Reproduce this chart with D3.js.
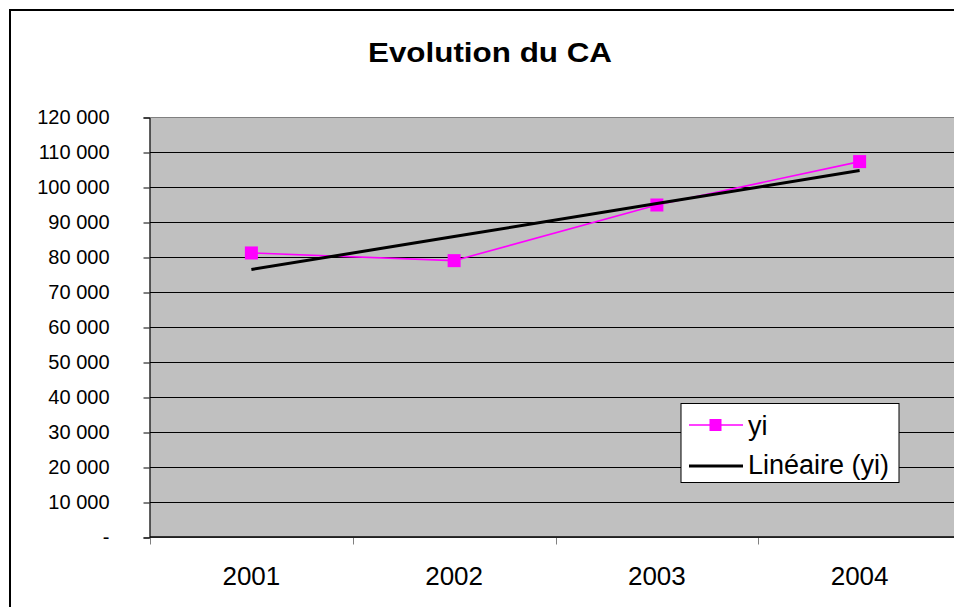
<!DOCTYPE html>
<html><head><meta charset="utf-8">
<script src="https://cdn.jsdelivr.net/npm/d3@7"></script>
<style>
html,body{margin:0;padding:0;background:#fff;overflow:hidden;}
svg{display:block;font-family:"Liberation Sans",Arial,sans-serif;}
</style></head>
<body>
<svg id="chart" width="954" height="607"></svg>
<script>
const title = "Evolution du CA";
const categories = ["2001", "2002", "2003", "2004"];
const yiValues = [81300, 79100, 95000, 107400];
const yTicks = [0, 10000, 20000, 30000, 40000, 50000, 60000, 70000, 80000, 90000, 100000, 110000, 120000];
const seriesNames = ["yi", "Linéaire (yi)"];

const svg = d3.select("#chart");
const plot = {left: 150, right: 961, top: 117.5, bottom: 537.5};

// outer frame
svg.append("rect").attr("x", 10).attr("y", 10).attr("width", 963).attr("height", 620)
  .attr("fill", "#fff").attr("stroke", "#000").attr("stroke-width", 2);

// title
svg.append("text").attr("x", 490).attr("y", 62).attr("text-anchor", "middle")
  .attr("font-size", 27).attr("font-weight", "bold")
  .attr("textLength", 244).attr("lengthAdjust", "spacingAndGlyphs")
  .text(title);

const x = d3.scaleBand().domain(categories).range([plot.left, plot.right]).padding(0);
const y = d3.scaleLinear().domain([0, 120000]).range([plot.bottom, plot.top]);

// plot area
svg.append("rect").attr("x", plot.left).attr("y", plot.top)
  .attr("width", plot.right - plot.left).attr("height", plot.bottom - plot.top)
  .attr("fill", "#C0C0C0").attr("stroke", "#808080").attr("stroke-width", 1);

// gridlines
svg.append("g").selectAll("line").data(yTicks.filter(v => v > 0 && v < 120000)).join("line")
  .attr("x1", plot.left).attr("x2", plot.right)
  .attr("y1", d => y(d)).attr("y2", d => y(d))
  .attr("stroke", "#000").attr("stroke-width", 1);

// y axis
const fmt = v => v === 0 ? "-" : d3.format(",")(v).replace(/,/g, " ");
const yAxis = svg.append("g").attr("transform", `translate(${plot.left - 0.5},0)`)
  .call(d3.axisLeft(y).tickValues(yTicks).tickFormat(fmt).tickSize(6).tickPadding(34));
yAxis.select(".domain").attr("stroke", "#000");
yAxis.selectAll(".tick line").attr("stroke", "#000");
yAxis.selectAll(".tick text").attr("font-size", 20).attr("fill", "#000")
  .attr("font-family", "'Liberation Sans',Arial,sans-serif");

// x axis: labels at category centers, ticks at boundaries
const xAxis = svg.append("g").attr("transform", `translate(0,${plot.bottom})`)
  .call(d3.axisBottom(x).tickSize(0).tickPadding(29));
xAxis.select(".domain").remove();
xAxis.selectAll(".tick text").attr("font-size", 26).attr("fill", "#000")
  .attr("font-family", "'Liberation Sans',Arial,sans-serif");
const boundaries = categories.map(c => x(c)).concat([x.range()[1]]);
svg.append("g").selectAll("line").data(boundaries).join("line")
  .attr("x1", d => Math.round(d) + 0.5).attr("x2", d => Math.round(d) + 0.5)
  .attr("y1", plot.bottom).attr("y2", plot.bottom + 7)
  .attr("stroke", "#808080").attr("stroke-width", 1);
svg.append("line").attr("x1", plot.left).attr("x2", plot.right)
  .attr("y1", plot.bottom - 0.5).attr("y2", plot.bottom - 0.5)
  .attr("stroke", "#000").attr("stroke-width", 1.6);

const cx = c => x(c) + x.bandwidth() / 2;

// linear trend (least squares on yi)
const xs = yiValues.map((_, i) => i + 1);
const mx = d3.mean(xs), my = d3.mean(yiValues);
const slope = d3.sum(xs.map((xi, i) => (xi - mx) * (yiValues[i] - my))) / d3.sum(xs.map(xi => (xi - mx) ** 2));
const intercept = my - slope * mx;
const trend = xs.map(xi => intercept + slope * xi);

// yi series
svg.append("path").datum(yiValues)
  .attr("d", d3.line().x((d, i) => cx(categories[i])).y(d => y(d)))
  .attr("fill", "none").attr("stroke", "#FF00FF").attr("stroke-width", 1.6);
svg.append("g").selectAll("rect").data(yiValues).join("rect")
  .attr("x", (d, i) => cx(categories[i]) - 6.5).attr("y", d => y(d) - 6.5)
  .attr("width", 13).attr("height", 13).attr("fill", "#FF00FF");

// trend line
svg.append("path").datum(trend)
  .attr("d", d3.line().x((d, i) => cx(categories[i])).y(d => y(d)))
  .attr("fill", "none").attr("stroke", "#000").attr("stroke-width", 3);

// legend
const lg = svg.append("g");
lg.append("rect").attr("x", 681).attr("y", 403.5).attr("width", 218).attr("height", 79)
  .attr("fill", "#fff").attr("stroke", "#000").attr("stroke-width", 1);
lg.append("line").attr("x1", 689).attr("x2", 743).attr("y1", 425).attr("y2", 425)
  .attr("stroke", "#FF00FF").attr("stroke-width", 1.6);
lg.append("rect").attr("x", 709.5).attr("y", 419).attr("width", 12).attr("height", 12).attr("fill", "#FF00FF");
lg.append("line").attr("x1", 689).attr("x2", 743).attr("y1", 466).attr("y2", 466)
  .attr("stroke", "#000").attr("stroke-width", 3);
lg.selectAll("text").data(seriesNames).join("text")
  .attr("x", 748).attr("y", (d, i) => i === 0 ? 435 : 474)
  .attr("font-size", 27).attr("fill", "#000").text(d => d);
</script>
</body></html>
